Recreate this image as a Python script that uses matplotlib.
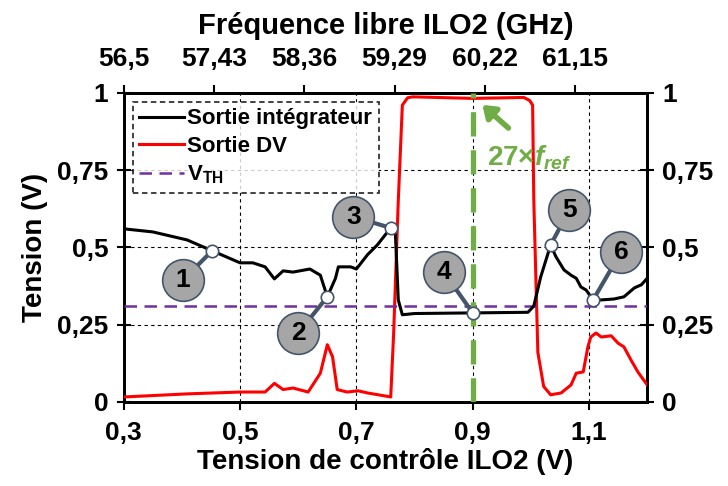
import matplotlib
matplotlib.use('Agg')
import matplotlib.pyplot as plt
import numpy as np

plt.rcParams.update({
    'font.family': 'Liberation Sans',
    'font.weight': 'bold',
    'mathtext.fontset': 'custom',
    'mathtext.rm': 'Liberation Sans:bold',
    'mathtext.bf': 'Liberation Sans:bold',
    'mathtext.it': 'Liberation Sans:bold:italic',
})

# Sortie intégrateur (black)
integ_x = [0.30, 0.35, 0.409, 0.452, 0.50, 0.522, 0.543, 0.559, 0.574, 0.591, 0.62, 0.638,
           0.65, 0.664, 0.669, 0.69, 0.70, 0.719, 0.736, 0.759, 0.767, 0.772, 0.779, 0.80,
           0.90, 0.995, 1.005, 1.017, 1.034, 1.043, 1.057, 1.069, 1.078, 1.086, 1.095,
           1.107, 1.121, 1.143, 1.16, 1.178, 1.19, 1.20]
integ_y = [0.56, 0.55, 0.524, 0.489, 0.45, 0.45, 0.437, 0.398, 0.424, 0.42, 0.43, 0.41,
           0.34, 0.40, 0.437, 0.437, 0.43, 0.476, 0.508, 0.563, 0.547, 0.33, 0.282, 0.286,
           0.288, 0.29, 0.31, 0.405, 0.508, 0.47, 0.427, 0.41, 0.40, 0.372, 0.362,
           0.33, 0.33, 0.333, 0.34, 0.369, 0.379, 0.40]

# Sortie DV (red)
dv_x = [0.30, 0.409, 0.50, 0.543, 0.559, 0.574, 0.591, 0.617, 0.638, 0.65, 0.659, 0.667,
        0.684, 0.703, 0.719, 0.747, 0.759, 0.764, 0.772, 0.779, 0.788, 0.797, 0.90, 0.988,
        0.998, 1.003, 1.005, 1.012, 1.022, 1.034, 1.052, 1.069, 1.078, 1.09, 1.098, 1.103,
        1.112, 1.121, 1.138, 1.15, 1.16, 1.172, 1.184, 1.20]
dv_y = [0.016, 0.026, 0.032, 0.032, 0.06, 0.04, 0.045, 0.032, 0.093, 0.185, 0.146, 0.04,
        0.032, 0.036, 0.029, 0.02, 0.016, 0.22, 0.65, 0.96, 0.984, 0.987, 0.982, 0.985,
        0.975, 0.96, 0.654, 0.16, 0.05, 0.023, 0.029, 0.055, 0.093, 0.097, 0.178, 0.21,
        0.223, 0.21, 0.214, 0.19, 0.178, 0.136, 0.097, 0.055]

vth = 0.31
f_ref_x = 0.9

# numbered points: marker position and callout bubble position
point_labels = ['1', '2', '3', '4', '5', '6']
point_x = [0.452, 0.65, 0.759, 0.90, 1.034, 1.107]
point_y = [0.489, 0.34, 0.563, 0.288, 0.508, 0.33]
bubble_x = [0.402, 0.600, 0.695, 0.850, 1.066, 1.155]
bubble_y = [0.395, 0.223, 0.599, 0.421, 0.621, 0.485]

x_ticks = [0.3, 0.5, 0.7, 0.9, 1.1]
y_ticks = [0, 0.25, 0.5, 0.75, 1]
top_ticks = [56.5, 57.43, 58.36, 59.29, 60.22, 61.15]


def comma(v):
    return ('%g' % v).replace('.', ',')


fig = plt.figure(figsize=(7.28, 4.86), dpi=100)
ax = fig.add_axes([0.170, 0.173, 0.719, 0.636])

ax.plot(integ_x, integ_y, color='black', lw=2.2, label='Sortie intégrateur', zorder=4)
ax.plot(dv_x, dv_y, color='#ff0000', lw=2.2, label='Sortie DV', zorder=3)
ax.axhline(vth, color='#7030a0', lw=1.8, dashes=(5, 3), label=r'V$_{\mathbf{TH}}$', zorder=3)
ax.axvline(f_ref_x, color='#70ad47', lw=3.8, dashes=(4.6, 2.6), zorder=5)

ax.set_xlim(0.3, 1.2)
ax.set_ylim(0, 1)
ax.set_xticks(x_ticks)
ax.set_xticklabels([comma(v) for v in x_ticks])
ax.set_yticks(y_ticks)
ax.set_yticklabels([comma(v) for v in y_ticks])
ax.grid(True, color='black', lw=0.8, linestyle=(0, (3, 3)))
ax.tick_params(axis='x', direction='out', length=6, width=1.5, labelsize=19, pad=8)
ax.tick_params(axis='y', direction='inout', length=10, width=1.5, labelsize=19, pad=6)
for s in ax.spines.values():
    s.set_linewidth(1.8)

ax.set_xlabel('Tension de contrôle ILO2 (V)', fontsize=20, fontweight='bold', labelpad=2)
ax.set_ylabel('Tension (V)', fontsize=20, fontweight='bold', labelpad=7)

# right axis
axr = ax.twinx()
axr.set_ylim(0, 1)
axr.set_yticks(y_ticks)
axr.set_yticklabels([comma(v) for v in y_ticks])
axr.tick_params(axis='y', direction='inout', length=10, width=1.5, labelsize=19, pad=6)

# top frequency axis
axt = ax.twiny()
axt.set_xlim(56.5, 61.894)
axt.set_xticks(top_ticks)
axt.set_xticklabels([comma(v) for v in top_ticks])
axt.tick_params(axis='x', direction='out', length=6, width=1.5, labelsize=19, pad=10)
axt.set_xlabel('Fréquence libre ILO2 (GHz)', fontsize=21, fontweight='bold', labelpad=9)
for a in (axr, axt):
    for s in a.spines.values():
        s.set_linewidth(1.8)

# callouts drawn on the main axes (put above the twins)
ax.set_zorder(axt.get_zorder() + 1)
ax.patch.set_visible(False)
for lab, px, py, bx, by in zip(point_labels, point_x, point_y, bubble_x, bubble_y):
    ax.plot([px, bx], [py, by], color='#44546a', lw=3, zorder=6, solid_capstyle='butt')
    ax.scatter([px], [py], s=80, facecolor='white', edgecolor='#44546a', lw=1.2, zorder=7)
    ax.scatter([bx], [by], s=900, facecolor='#a6a6a6', edgecolor='#44546a', lw=1.2, zorder=8)
    ax.text(bx, by, lab, ha='center', va='center', fontsize=19, fontweight='bold', zorder=9)

ax.annotate('', xy=(0.913, 0.967), xytext=(0.965, 0.88),
            arrowprops=dict(arrowstyle='-|>,head_length=0.7,head_width=0.5',
                            color='#70ad47', lw=4), zorder=9)
ax.text(0.925, 0.79, r'$\mathit{27{\times}f_{ref}}$', color='#70ad47', fontsize=20,
        ha='left', va='center', zorder=9)

leg = ax.legend(loc='upper left', fontsize=16, frameon=True, fancybox=False,
                edgecolor='black', handlelength=2.0, handletextpad=0.15,
                borderaxespad=0.4, labelspacing=0.3, borderpad=0.3)
leg.get_frame().set_linestyle((0, (3, 2)))
leg.get_frame().set_linewidth(1.3)
leg.set_zorder(10)

fig.savefig('out.png', dpi=100)
